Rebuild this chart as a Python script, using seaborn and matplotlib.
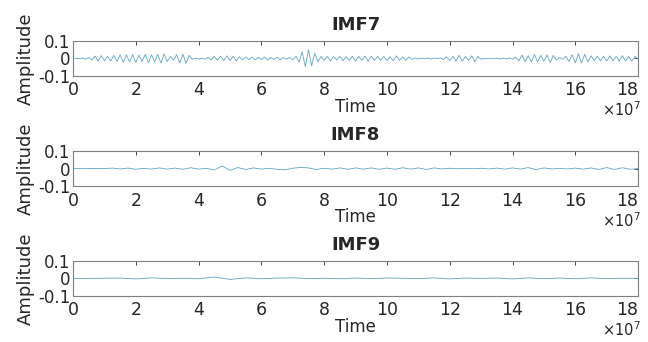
import numpy as np
import pandas as pd
import matplotlib
matplotlib.use("Agg")
import matplotlib.pyplot as plt
import matplotlib.ticker as mticker
import seaborn as sns

# --- DATA (amplitudes, time span 0 .. 18e7) ---
imf7 = [
    0.000, 0.001, -0.001, 0.003, -0.004, 0.006, -0.010, 0.014, -0.015, 0.016,
    -0.013, 0.012, -0.014, 0.018, -0.017, 0.020, -0.022, 0.021, -0.019, 0.022,
    -0.024, 0.020, -0.018, 0.023, -0.025, 0.022, -0.020, 0.024, -0.026, 0.025,
    -0.018, 0.012, -0.010, 0.022, -0.026, 0.024, -0.028, 0.018, -0.006, 0.002,
    -0.003, 0.002, -0.004, 0.006, -0.008, 0.012, -0.010, 0.014, -0.012, 0.015,
    -0.011, 0.012, -0.014, 0.010, -0.008, 0.009, -0.007, 0.008, -0.009, 0.007,
    -0.006, 0.008, -0.009, 0.006, -0.005, 0.007, -0.008, 0.006, -0.004, 0.006,
    -0.008, 0.012, -0.020, 0.038, -0.048, 0.050, -0.042, 0.030, -0.018, 0.012,
    -0.010, 0.012, -0.014, 0.010, -0.009, 0.012, -0.013, 0.011, -0.010, 0.013,
    -0.015, 0.012, -0.010, 0.014, -0.016, 0.013, -0.011, 0.012, -0.010, 0.011,
    -0.012, 0.010, -0.013, 0.015, -0.012, 0.010, -0.011, 0.009, -0.006, 0.004,
    -0.003, 0.002, -0.002, 0.003, -0.004, 0.003, -0.002, 0.004, -0.006, 0.010,
    -0.013, 0.012, -0.015, 0.018, -0.016, 0.012, -0.010, 0.015, -0.018, 0.012,
    -0.004, 0.002, -0.002, 0.001, -0.002, 0.002, -0.003, 0.002, -0.003, 0.004,
    -0.005, 0.008, -0.014, 0.020, -0.018, 0.016, -0.020, 0.022, -0.019, 0.018,
    -0.016, 0.020, -0.024, 0.018, -0.010, 0.006, -0.004, 0.012, -0.018, 0.022,
    -0.025, 0.028, -0.026, 0.024, -0.020, 0.016, -0.012, 0.014, -0.013, 0.012,
    -0.014, 0.015, -0.013, 0.012, -0.015, 0.016, -0.014, 0.012, -0.015, 0.013,
    -0.004,
]
imf8 = [
    0.000, 0.000, 0.000, 0.001, 0.000, 0.003, -0.002, 0.003, -0.004, 0.002,
    -0.003, 0.004, -0.003, 0.003, -0.004, 0.005, -0.003, 0.002, -0.008, 0.015,
    -0.010, 0.006, -0.005, 0.004, -0.003, 0.002, -0.004, -0.007, 0.002, 0.007,
    0.004, -0.005, 0.002, -0.003, 0.004, -0.004, 0.004, -0.003, 0.004, -0.004,
    0.003, -0.004, 0.005, -0.003, 0.004, -0.005, 0.004, -0.002, 0.002, -0.001,
    0.001, -0.001, 0.002, -0.002, 0.003, -0.003, 0.004, -0.003, 0.006, -0.006,
    0.004, -0.002, 0.002, -0.002, 0.003, -0.003, 0.004, -0.005, 0.006, -0.005,
    0.005, -0.004, 0.000,
]
imf9 = [
    0.000, 0.000, 0.001, 0.002, -0.003, 0.003, -0.001, 0.001, -0.002, 0.008,
    -0.006, 0.003, -0.002, 0.002, 0.003, -0.001, 0.001, -0.002, 0.002, -0.001,
    0.002, 0.001, -0.001, 0.003, -0.003, 0.002, 0.000, 0.002, -0.003, 0.003,
    -0.002, 0.002, -0.002, 0.003, -0.001, 0.001, 0.000,
]
titles = ["IMF7", "IMF8", "IMF9"]
t_end = 18e7
x_ticks = [0, 2e7, 4e7, 6e7, 8e7, 10e7, 12e7, 14e7, 16e7, 18e7]
y_ticks = [-0.1, 0, 0.1]
y_ticklabels = ["-0.1", "0", "0.1"]

sns.set_style("white")
plt.rcParams['font.family'] = ['DejaVu Sans']

fig = plt.figure(figsize=(6.48, 3.42), dpi=100)
bottoms = [0.778, 0.456, 0.135]
line_color = "#5fa3c7"
txt_color = "#262626"

for series, title, b in zip([imf7, imf8, imf9], titles, bottoms):
    ax = fig.add_axes([0.1127, b, 0.872, 0.102])
    df = pd.DataFrame({"Time": np.linspace(0, t_end, len(series)),
                       "Amplitude": series})
    sns.lineplot(data=df, x="Time", y="Amplitude", ax=ax,
                 color=line_color, linewidth=0.6)
    ax.set_xlim(0, t_end)
    ax.set_ylim(-0.1, 0.1)
    ax.set_xticks(x_ticks)
    ax.xaxis.set_major_formatter(mticker.FuncFormatter(lambda v, p: f"{v / 1e7:g}"))
    ax.set_yticks(y_ticks)
    ax.set_yticklabels(y_ticklabels)
    ax.tick_params(direction="in", length=3, width=0.6, colors=txt_color,
                   top=True, right=True)
    ax.tick_params(axis="x", labelsize=12.5, pad=4)
    ax.tick_params(axis="y", labelsize=12, pad=2)
    # last label sits inside the figure edge, as in the reference
    ax.get_xticklabels()[-1].set_horizontalalignment("right")
    for s in ax.spines.values():
        s.set_color("#7f7f7f")
        s.set_linewidth(0.8)
    ax.set_title(title, fontsize=13, fontweight="bold", pad=8)
    ax.set_xlabel("Time", fontsize=12, color=txt_color, labelpad=-1)
    ax.set_ylabel("Amplitude", fontsize=13, color=txt_color, labelpad=2)
    ax.text(1.005, -0.98, r"$\times10^{7}$", transform=ax.transAxes,
            ha="right", va="center", fontsize=10.5, color=txt_color)

fig.savefig("out.png", dpi=100)
